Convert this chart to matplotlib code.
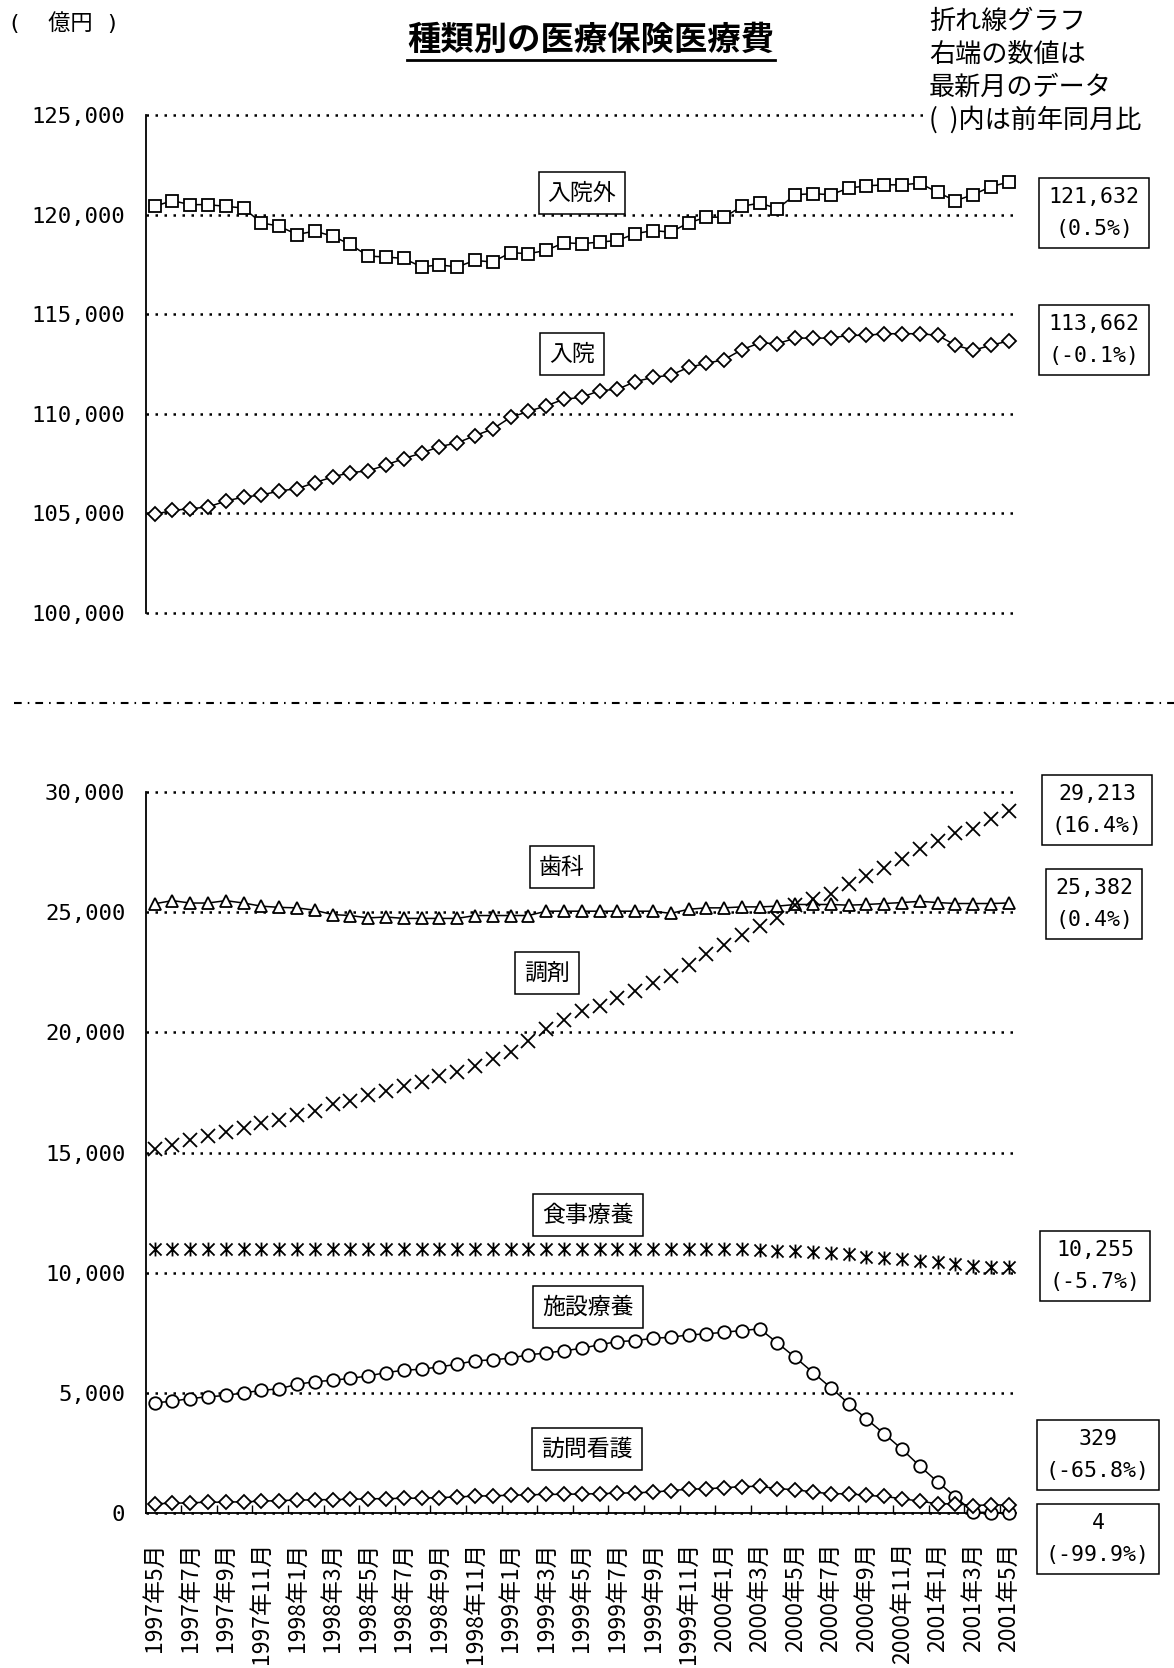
import matplotlib
matplotlib.use("Agg")
import matplotlib.pyplot as plt
from matplotlib.lines import Line2D
from matplotlib.path import Path

# 月次データ 1997年5月〜2001年5月 (49か月)、単位は億円
month_labels = [
    "1997年5月", "1997年7月", "1997年9月", "1997年11月",
    "1998年1月", "1998年3月", "1998年5月", "1998年7月", "1998年9月", "1998年11月",
    "1999年1月", "1999年3月", "1999年5月", "1999年7月", "1999年9月", "1999年11月",
    "2000年1月", "2000年3月", "2000年5月", "2000年7月", "2000年9月", "2000年11月",
    "2001年1月", "2001年3月", "2001年5月",
]

gairai = [120415, 120700, 120500, 120500, 120415, 120330, 119585, 119420, 119000, 119170,
          118920, 118500, 117920, 117870, 117800, 117375, 117475, 117375, 117700, 117620,
          118090, 118040, 118200, 118590, 118540, 118620, 118700, 119040, 119200, 119120,
          119585, 119870, 119870, 120415, 120580, 120300, 121000, 121050, 121000, 121330,
          121445, 121495, 121495, 121580, 121110, 120700, 121000, 121410, 121632]

nyuin = [104950, 105150, 105235, 105320, 105620, 105820, 105920, 106125, 106240, 106540,
         106830, 107050, 107130, 107430, 107750, 108030, 108350, 108540, 108900, 109240,
         109820, 110120, 110400, 110730, 110830, 111160, 111230, 111610, 111830, 111940,
         112330, 112530, 112720, 113220, 113560, 113520, 113800, 113800, 113800, 113940,
         113940, 114020, 114020, 114020, 113940, 113440, 113190, 113440, 113662]

shika = [25350, 25480, 25380, 25380, 25480, 25380, 25250, 25200, 25180, 25080,
         24900, 24860, 24760, 24800, 24740, 24740, 24740, 24740, 24860, 24860,
         24860, 24860, 25040, 25040, 25040, 25040, 25040, 25040, 25040, 24950,
         25120, 25180, 25180, 25220, 25220, 25250, 25320, 25320, 25320, 25290,
         25320, 25360, 25400, 25450, 25400, 25360, 25360, 25360, 25382]

chozai = [15155, 15320, 15500, 15705, 15843, 16008, 16215, 16352, 16559, 16738,
          17013, 17151, 17385, 17564, 17771, 17950, 18184, 18349, 18597, 18900,
          19175, 19630, 20139, 20525, 20870, 21090, 21420, 21735, 22050, 22350,
          22800, 23250, 23652, 24069, 24416, 24764, 25278, 25528, 25737, 26154,
          26501, 26849, 27224, 27613, 27961, 28308, 28475, 28864, 29213]

shokuji = [10980, 10980, 10980, 10980, 10980, 10980, 10980, 10980, 10980, 10980,
           10980, 10980, 10980, 10980, 10980, 10980, 10980, 10980, 10980, 10980,
           10980, 10980, 10980, 10980, 10980, 10980, 10980, 10980, 10980, 10980,
           10980, 10980, 10980, 10980, 10952, 10910, 10882, 10854, 10812, 10770,
           10672, 10602, 10574, 10490, 10434, 10350, 10294, 10252, 10255]

shisetsu = [4582, 4652, 4764, 4834, 4890, 5002, 5100, 5170, 5352, 5464,
            5520, 5604, 5702, 5842, 5940, 5982, 6080, 6192, 6332, 6374,
            6444, 6584, 6654, 6752, 6850, 7004, 7130, 7172, 7270, 7312,
            7410, 7452, 7522, 7592, 7662, 7074, 6472, 5842, 5212, 4554,
            3910, 3294, 2650, 1950, 1292, 662, 40, 15, 4]

houmon = [390, 400, 430, 445, 455, 465, 490, 520, 535, 550,
          560, 570, 590, 600, 610, 620, 640, 670, 700, 720,
          735, 760, 770, 780, 790, 805, 825, 840, 870, 930,
          990, 1010, 1050, 1100, 1110, 1012, 970, 872, 802, 802,
          732, 690, 592, 494, 382, 382, 312, 340, 329]

# 前年同月比 (最新月)
yoy = {"gairai": "0.5%", "nyuin": "-0.1%", "shika": "0.4%", "chozai": "16.4%",
       "shokuji": "-5.7%", "shisetsu": "-99.9%", "houmon": "-65.8%"}

x = list(range(len(gairai)))

W, H = 1174, 1668
NUM_FONT = ["DejaVu Sans Mono", "Noto Sans CJK JP"]
JP_FONT = ["Noto Sans CJK JP", "DejaVu Sans"]
plt.rcParams["font.family"] = JP_FONT

fig = plt.figure(figsize=(W / 100, H / 100), dpi=100)


def px_axes(left, top, right, bottom):
    return fig.add_axes([left / W, 1 - bottom / H, (right - left) / W, (bottom - top) / H])


def fx(px):
    return px / W


def fy(py):
    return 1 - py / H


def style_axis(ax, ticks, ylim):
    ax.set_xlim(-0.48, 48.4)
    ax.set_ylim(*ylim)
    ax.set_yticks(ticks)
    ax.set_yticklabels([f"{t:,}" for t in ticks], fontfamily=NUM_FONT, fontsize=16)
    ax.tick_params(axis="y", length=0, pad=15)
    ax.grid(axis="y", color="black", linestyle=(0, (1, 2.6)), linewidth=1.8)
    for gl in ax.get_ygridlines():
        gl.set_clip_on(False)
    for s in ["top", "right"]:
        ax.spines[s].set_visible(False)
    ax.spines["left"].set_linewidth(1.3)
    ax.set_axisbelow(True)


# ×に縦線を重ねたアスタリスク
asterisk = Path([(-1, -1), (1, 1), (-1, 1), (1, -1), (0, -1.15), (0, 1.15)],
                [Path.MOVETO, Path.LINETO] * 3)

line_kw = dict(color="black", linewidth=1.1, markerfacecolor="white",
               markeredgecolor="black", markeredgewidth=1.3, zorder=3, clip_on=False)

# 上段: 入院外・入院
ax1 = px_axes(146, 115, 1016, 613)
style_axis(ax1, [100000, 105000, 110000, 115000, 120000, 125000], (100000, 125000))
ax1.spines["bottom"].set_visible(False)
ax1.set_xticks([])
ax1.plot(x, gairai, marker="s", markersize=9, **line_kw)
ax1.plot(x, nyuin, marker="D", markersize=7.5, **line_kw)

# 下段: 歯科・調剤・食事療養・施設療養・訪問看護
ax2 = px_axes(146, 792, 1016, 1513)
style_axis(ax2, [0, 5000, 10000, 15000, 20000, 25000, 30000], (0, 30000))
ax2.spines["bottom"].set_linewidth(1.3)
ax2.plot(x, shika, marker="^", markersize=9, **line_kw)
ax2.plot(x, chozai, linestyle="none", marker="x", markersize=9.5, color="black",
         markeredgewidth=1.3, zorder=3, clip_on=False)
ax2.plot(x, shokuji, linestyle="none", marker=asterisk, markersize=10, color="black",
         markeredgewidth=1.3, zorder=3, clip_on=False)
ax2.plot(x, shisetsu, marker="o", markersize=9, **line_kw)
ax2.plot(x, houmon, marker="D", markersize=7, **line_kw)

ax2.set_xticks(range(0, 49, 2))
ax2.set_xticklabels(month_labels, rotation=90, fontsize=16.5, va="top")
ax2.tick_params(axis="x", which="major", length=0, pad=21)
ax2.set_xticks([i + 0.5 for i in range(1, 48, 2)], minor=True)
ax2.tick_params(axis="x", which="minor", direction="in", length=5.5, width=1)

# 系列名ラベル
box_kw = dict(boxstyle="square,pad=0.4", facecolor="white", edgecolor="black", linewidth=1.1)
series_labels = [("入院外", 582, 193), ("入院", 572, 354), ("歯科", 562, 867),
                 ("調剤", 547, 973), ("食事療養", 588, 1215), ("施設療養", 588, 1307),
                 ("訪問看護", 587, 1449)]
for name, px, py in series_labels:
    fig.text(fx(px), fy(py), name, fontsize=16.5, ha="center", va="center", bbox=box_kw)

# 右端の最新値
latest = [(gairai, "gairai", 1094, 213), (nyuin, "nyuin", 1094, 340),
          (chozai, "chozai", 1097, 810), (shika, "shika", 1094, 904),
          (shokuji, "shokuji", 1095, 1266), (houmon, "houmon", 1098, 1455),
          (shisetsu, "shisetsu", 1098, 1539)]
val_box = dict(boxstyle="square,pad=0.42", facecolor="white", edgecolor="black", linewidth=1.1)
for series, key, px, py in latest:
    fig.text(fx(px), fy(py), f"{series[-1]:,}\n({yoy[key]})", fontsize=15.5,
             fontfamily=NUM_FONT, ha="center", va="center", multialignment="center",
             linespacing=1.7, bbox=val_box)

# 見出し
fig.text(fx(8), fy(23), "(  億円 )", fontsize=16, fontfamily=NUM_FONT, ha="left", va="center")
title = fig.text(fx(591), fy(40), "種類別の医療保険医療費", fontsize=24, fontweight="bold",
                 ha="center", va="center")

notes = ["折れ線グラフ", "右端の数値は", "最新月のデータ", "(  )内は前年同月比"]
for i, line in enumerate(notes):
    t = fig.text(fx(929), fy(21 + 33 * i), line, fontsize=18.8, ha="left", va="center")
    if i == len(notes) - 1:
        t.set_backgroundcolor("white")

# 上下の区切り線
fig.add_artist(Line2D([fx(14), 1.0], [fy(703), fy(703)], transform=fig.transFigure,
                      color="black", linewidth=1.5, linestyle=(0, (3.7, 2.9, 0.75, 2.9))))

# タイトルの下線
fig.canvas.draw()
bb = title.get_window_extent().transformed(fig.transFigure.inverted())
fig.add_artist(Line2D([bb.x0, bb.x1], [bb.y0 - 0.002, bb.y0 - 0.002],
                      transform=fig.transFigure, color="black", linewidth=2))

fig.savefig("out.png", dpi=100)
